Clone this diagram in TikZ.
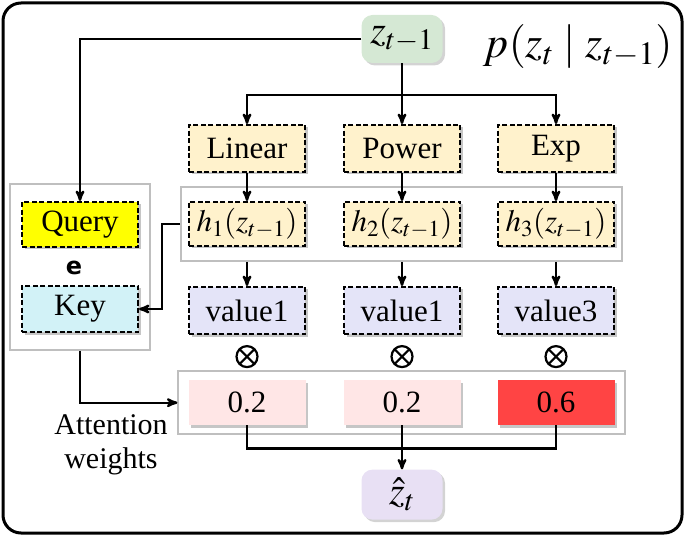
\documentclass[tikz,border=0pt]{standalone}
\usepackage{mathptmx}
\usepackage{fontspec}
\setmainfont{Liberation Serif}
\newfontfamily\sansfont{DejaVu Sans}
\usetikzlibrary{arrows,positioning,shadows,fit}
\definecolor{zgreen}{HTML}{D5E8D4}
\definecolor{funcfill}{HTML}{FFF2CC}
\definecolor{valfill}{HTML}{E4E4F8}
\definecolor{queryfill}{HTML}{FFFF00}
\definecolor{keyfill}{HTML}{D2F2F7}
\definecolor{wlight}{HTML}{FFE6E6}
\definecolor{wstrong}{HTML}{FF4444}
\definecolor{zhatfill}{HTML}{E8E0F4}
\definecolor{groupgray}{HTML}{BFBFBF}
\tikzset{
    %Define standard arrow tip
    >=stealth',
    %Define style for dashed boxes
    dbox/.style={
           rectangle,
           draw=black, line width=2pt,
           dash pattern=on 5pt off 2.5pt,
           minimum width=116pt,
           minimum height=47pt,
           font=\fontsize{31}{34}\selectfont,
           drop shadow={shadow xshift=2.5pt, shadow yshift=-2.5pt, opacity=0.45}},
    % Define style for weight boxes
    wbox/.style={
           rectangle,
           minimum width=117pt,
           minimum height=45pt,
           font=\fontsize{31}{34}\selectfont,
           drop shadow={shadow xshift=2.5pt, shadow yshift=-2.5pt, opacity=0.45}},
    % Define style for rounded state boxes
    state/.style={
           rectangle,
           rounded corners=11pt,
           minimum width=81pt,
           drop shadow={shadow xshift=2.5pt, shadow yshift=-2.5pt, opacity=0.35}},
    % Define style for gray groups
    group/.style={
           rectangle,
           draw=groupgray, line width=1.9pt},
    % Define style for the product sign
    prod/.style={
           circle, draw=black, line width=2.2pt,
           minimum size=21pt, inner sep=0pt,
           path picture={
               \draw[line width=2.2pt] (path picture bounding box.north west)
                   -- (path picture bounding box.south east);
               \draw[line width=2.2pt] (path picture bounding box.north east)
                   -- (path picture bounding box.south west);}},
    % Define arrow style
    pil/.style={
           ->,
           line width=2.4pt}
}
\begin{document}
\begin{tikzpicture}[x=1pt, y=1pt, node distance=37pt]
    \useasboundingbox (0,0) rectangle (685,536);
    \draw[line width=3pt, rounded corners=18pt] (3,3) rectangle (682,533);
    % top state and title
    \node[state, fill=zgreen, minimum height=48pt, font=\fontsize{40}{44}\selectfont]
        (z) at (402,497) {$z_{t-1}$};
    \node[anchor=east, font=\fontsize{44}{48}\selectfont] (title) at (676,489)
        {$p(z_t \mid z_{t-1})$};
    % function row
    \node[dbox, fill=funcfill] (power) at (402,387.5) {Power};
    \node[dbox, fill=funcfill, left=of power] (linear) {Linear};
    \node[dbox, fill=funcfill, right=36pt of power] (exp) {Exp};
    % h row
    \node[dbox, fill=funcfill, minimum height=44pt, below=28pt of linear] (h1) {$h_1(z_{t-1})$};
    \node[dbox, fill=funcfill, minimum height=44pt, below=28pt of power] (h2) {$h_2(z_{t-1})$};
    \node[dbox, fill=funcfill, minimum height=44pt, below=28pt of exp] (h3) {$h_3(z_{t-1})$};
    \node[group, fit=(h1)(h3), inner xsep=7pt, inner ysep=14pt] (hrow) {};
    % value row
    \node[dbox, fill=valfill, below=39pt of h1] (v1) {value1};
    \node[dbox, fill=valfill, below=39pt of h2] (v2) {value1};
    \node[dbox, fill=valfill, below=39pt of h3] (v3) {value3};
    \foreach \i in {1,2,3}
        \node[prod, below=10pt of v\i] (ot\i) {};
    % weight row
    \node[wbox, fill=wlight, below=45pt of v1] (w1) {0.2};
    \node[wbox, fill=wlight, below=45pt of v2] (w2) {0.2};
    \node[wbox, fill=wstrong, below=45pt of v3] (w3) {0.6};
    \node[group, fit=(w1)(w3), inner xsep=10pt, inner ysep=9pt] (wrow) {};
    \node[state, fill=zhatfill, minimum height=50pt, font=\fontsize{40}{44}\selectfont,
        below=44pt of w2] (zhat) {$\hat{z}_t$};
    % query and key
    \node[dbox, fill=queryfill, minimum height=45pt] (query) at (80,311.5) {Query};
    \node[dbox, fill=keyfill, minimum height=46pt, below=37pt of query] (key) {Key};
    \node[group, fit=(query)(key), inner xsep=11pt, inner ysep=17pt] (qk) {};
    \node[font=\sansfont\bfseries\fontsize{24}{24}\selectfont] (e) at (74,268) {e};
    \node[align=center, font=\fontsize{30}{34}\selectfont] (attn) at (111,91)
        {Attention\\weights};
    % connectors
    \draw[pil] (z.west) -| (query.north);
    \path (z.south) ++(0,-32pt) coordinate (split);
    \draw[pil] (z.south) -- (power.north);
    \draw[pil] (split) -| (linear.north);
    \draw[pil] (split) -| (exp.north);
    \draw[pil] (linear) -- (h1);
    \draw[pil] (power) -- (h2);
    \draw[pil] (exp) -- (h3);
    \foreach \i in {1,2,3}
        \draw[pil] (h\i |- hrow.south) -- (v\i);
    \draw[pil] (hrow.west) -- ++(-18pt,0) |- (key.east);
    \draw[pil] (qk.south) |- (wrow.west);
    \draw[line width=2.4pt] (w1.south) -- ++(0,-23pt) -| (w3.south);
    \draw[pil] (w2.south) -- (zhat.north);
\end{tikzpicture}
\end{document}
